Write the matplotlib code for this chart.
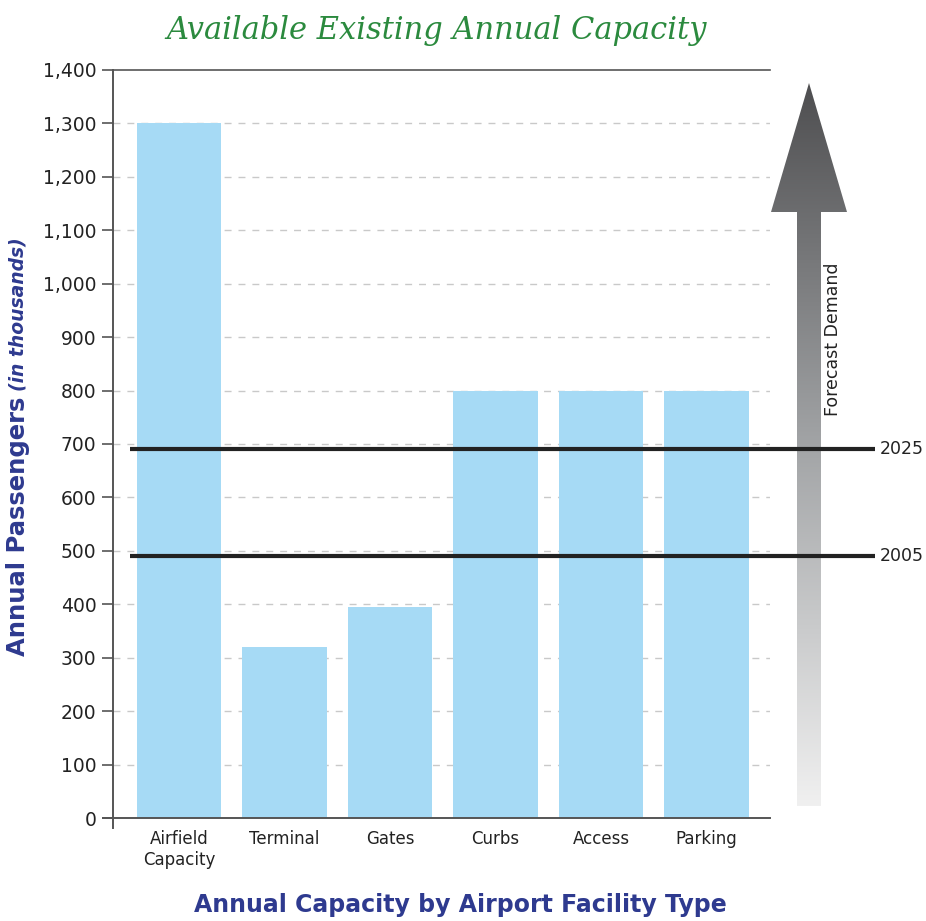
import numpy as np
import matplotlib

matplotlib.use("Agg")
import matplotlib.pyplot as plt
from matplotlib.patches import Polygon

# data
categories = ["Airfield\nCapacity", "Terminal", "Gates", "Curbs", "Access", "Parking"]
capacity = [1300, 320, 395, 800, 800, 800]
demand_years = ["2005", "2025"]
demand_values = [490, 690]
y_ticks = list(range(0, 1401, 100))

bar_color = "#a6daf5"
navy = "#2e3a8f"
green = "#2b8a3e"
spine_col = "#555555"

plt.rcParams["font.family"] = ["DejaVu Sans"]

fig = plt.figure(figsize=(9.26, 9.21), dpi=100)
W, H = 926, 921

# overlay for decorations (pixel coords)
deco = fig.add_axes([0, 0, 1, 1], zorder=0)
deco.set_xlim(0, W)
deco.set_ylim(H, 0)
deco.axis("off")

ax = fig.add_axes([113 / W, 1 - 818 / H, 657 / W, 748 / H], zorder=1)
ax.patch.set_alpha(0)

x = np.arange(len(categories))
ax.bar(x, capacity, width=0.8, color=bar_color, zorder=2)
ax.set_xlim(-0.625, len(categories) - 0.4)
ax.set_ylim(0, 1400)
ax.set_yticks(y_ticks)
ax.set_yticklabels([f"{v:,}" for v in y_ticks], fontsize=13.5, color="#222222")
ax.set_xticks(x)
ax.set_xticklabels(categories, fontsize=12, color="#222222", linespacing=1.15)
ax.tick_params(axis="x", length=0, pad=9)
ax.tick_params(axis="y", length=8, width=1.2, color=spine_col, pad=4)

for v in y_ticks[1:-1]:
    ax.axhline(v, color="#c9c9c9", lw=1, dashes=(5, 5), zorder=1)

for s in ["right", "left", "bottom"]:
    ax.spines[s].set_visible(False)
ax.spines["top"].set_color(spine_col)
ax.spines["top"].set_linewidth(1.2)
# crosshair-style axis lines
ax.plot([0, 0], [-0.013, 1], transform=ax.transAxes, color=spine_col, lw=1.4, clip_on=False, zorder=3)
ax.plot([-0.015, 1], [0, 0], transform=ax.transAxes, color=spine_col, lw=1.4, clip_on=False, zorder=3)

# demand lines
for yr, val in zip(demand_years, demand_values):
    ax.plot([0.026, 1.16], [val, val], transform=ax.get_yaxis_transform(),
            color="#222222", lw=3, clip_on=False, zorder=4, solid_capstyle="butt")
    ax.text(1.167, val, yr, transform=ax.get_yaxis_transform(), fontsize=12.5,
            va="center", ha="left", color="#222222")

# gradient arrow
arrow = Polygon([(797, 806), (821, 806), (821, 212), (847, 212), (809, 83),
                 (771, 212), (797, 212)], closed=True, facecolor="none", edgecolor="none")
deco.add_patch(arrow)
grad = np.linspace(0, 1, 256).reshape(-1, 1)
cmap = matplotlib.colors.LinearSegmentedColormap.from_list("g", ["#4e4e50", "#a2a4a6", "#f0f0f0"])
im = deco.imshow(grad, cmap=cmap, extent=[765, 853, 806, 83], aspect="auto", zorder=1)
im.set_clip_path(arrow)
deco.text(833, 339, "Forecast Demand", rotation=90, fontsize=12.5, ha="center", va="center",
          color="#222222")

# title and labels
fig.text(437 / W, 1 - 30 / H, "Available Existing Annual Capacity", fontsize=22,
         color=green, ha="center", va="center", family="DejaVu Serif", style="italic")
fig.text(460 / W, 1 - 905 / H, "Annual Capacity by Airport Facility Type", fontsize=17,
         fontweight="bold", color=navy, ha="center", va="center")

t1 = fig.text(18 / W, 1 - 656 / H, "Annual Passengers", rotation=90, fontsize=17.5,
              fontweight="bold", color=navy, ha="center", va="bottom")
fig.canvas.draw()
bb = t1.get_window_extent(fig.canvas.get_renderer())
fig.text(18 / W, (bb.y1 + 6) / H, "(in thousands)", rotation=90, fontsize=13.5,
         fontweight="bold", style="italic", color=navy, ha="center", va="bottom")

fig.savefig("out.png", dpi=100, facecolor="white")
